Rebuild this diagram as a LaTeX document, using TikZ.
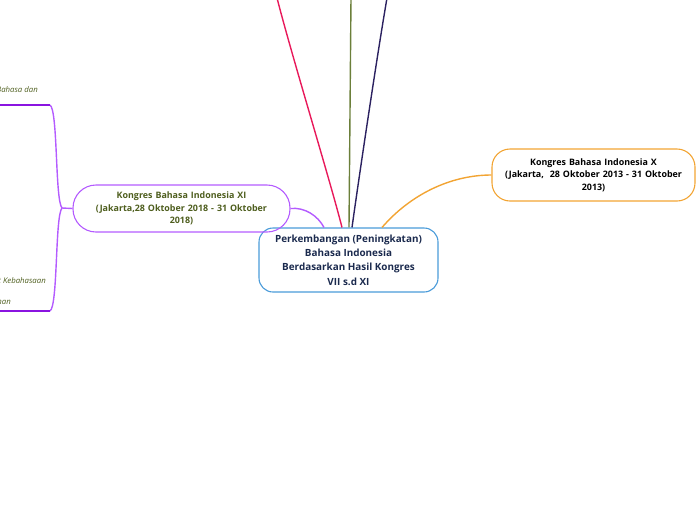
\documentclass[tikz,border=0pt]{standalone}
\usepackage{fontspec}
\setmainfont{Open Sans}
\definecolor{cblue}{HTML}{4A9BD9}
\definecolor{cnavytxt}{HTML}{1B2A4E}
\definecolor{cpurple}{HTML}{B45CFF}
\definecolor{cpurpledk}{HTML}{8A14E0}
\definecolor{colive}{HTML}{4E5E1E}
\definecolor{corange}{HTML}{F2A433}
\definecolor{cred}{HTML}{E8195A}
\definecolor{cgreen}{HTML}{6B7F3A}
\definecolor{cnavy}{HTML}{2B2160}
\begin{document}
\begin{tikzpicture}[x=1pt,y=-1pt,
  topic/.style={draw, line width=1.1pt, align=center, font=\bfseries\fontsize{8.9}{12.5}\selectfont, inner sep=0pt},
  conn/.style={line width=1.4pt},
  leaf/.style={font=\itshape\fontsize{7.8}{9}\selectfont, text=colive, anchor=east, inner sep=0pt}]
\useasboundingbox (0,0) rectangle (696,520);
\clip (0,0) rectangle (696,520);
% nodes
\node[topic, draw=cblue, text=cnavytxt, rounded corners=14pt, minimum width=179pt, minimum height=64pt,
  font=\bfseries\fontsize{9.9}{14.2}\selectfont] (c) at (348.5,260)
  {Perkembangan (Peningkatan)\\Bahasa Indonesia\\Berdasarkan Hasil Kongres\\VII s.d XI};
\node[topic, draw=cpurple, text=colive, rounded corners=23pt, minimum width=217pt, minimum height=47pt, text width=185pt] (xi) at (181.5,208.5)
  {Kongres Bahasa Indonesia XI\\(Jakarta,28 Oktober 2018 - 31 Oktober\\2018)};
\node[topic, draw=corange, text=black, rounded corners=18pt, minimum width=203pt, minimum height=52pt, text width=185pt] (x) at (593.5,175)
  {Kongres Bahasa Indonesia X\\(Jakarta,\ \ 28 Oktober 2013 - 31 Oktober\\2013)};
% free ends
\coordinate (rtop) at (277,-2);
\coordinate (gtop) at (351,-2);
\coordinate (ntop) at (387,-2);
\coordinate (j) at (62,208);
\coordinate (ua) at (50,105);
\coordinate (ub) at (-2,105);
\coordinate (la) at (50,311);
\coordinate (lb) at (-2,311);
% connectors from central
\draw[conn, cred] (c.north -| 342,0) .. controls (330,180) and (293,60) .. (rtop);
\draw[conn, cgreen] (c.north -| 349,0) -- (gtop);
\draw[conn, cnavy] (c.north -| 352,0) .. controls (360,170) and (378,50) .. (ntop);
\draw[conn, cpurple] (xi.east) .. controls (305,207) and (318,216) .. (c.north -| 324,0);
\draw[conn, corange] (c.north -| 382,0) .. controls (410,195) and (450,175) .. (x.west);
% left branches
\draw[conn, cpurple] (xi.west) -- (j);
\draw[conn, cpurple] (j) .. controls (55,200) and (58,110) .. (ua);
\draw[conn, cpurple] (j) .. controls (55,216) and (58,306) .. (la);
\draw[line width=1.8pt, cpurpledk] (ua) -- (ub);
\draw[line width=1.8pt, cpurpledk] (la) -- (lb);
% leaf texts (cut at the left edge, as in the reference)
\node[leaf] (t1) at (38,90) {Bahasa dan};
\node[leaf] (t2) at (46,281) {t Kebahasaan};
\node[leaf] (t3) at (11,302) {nan};
\end{tikzpicture}
\end{document}
